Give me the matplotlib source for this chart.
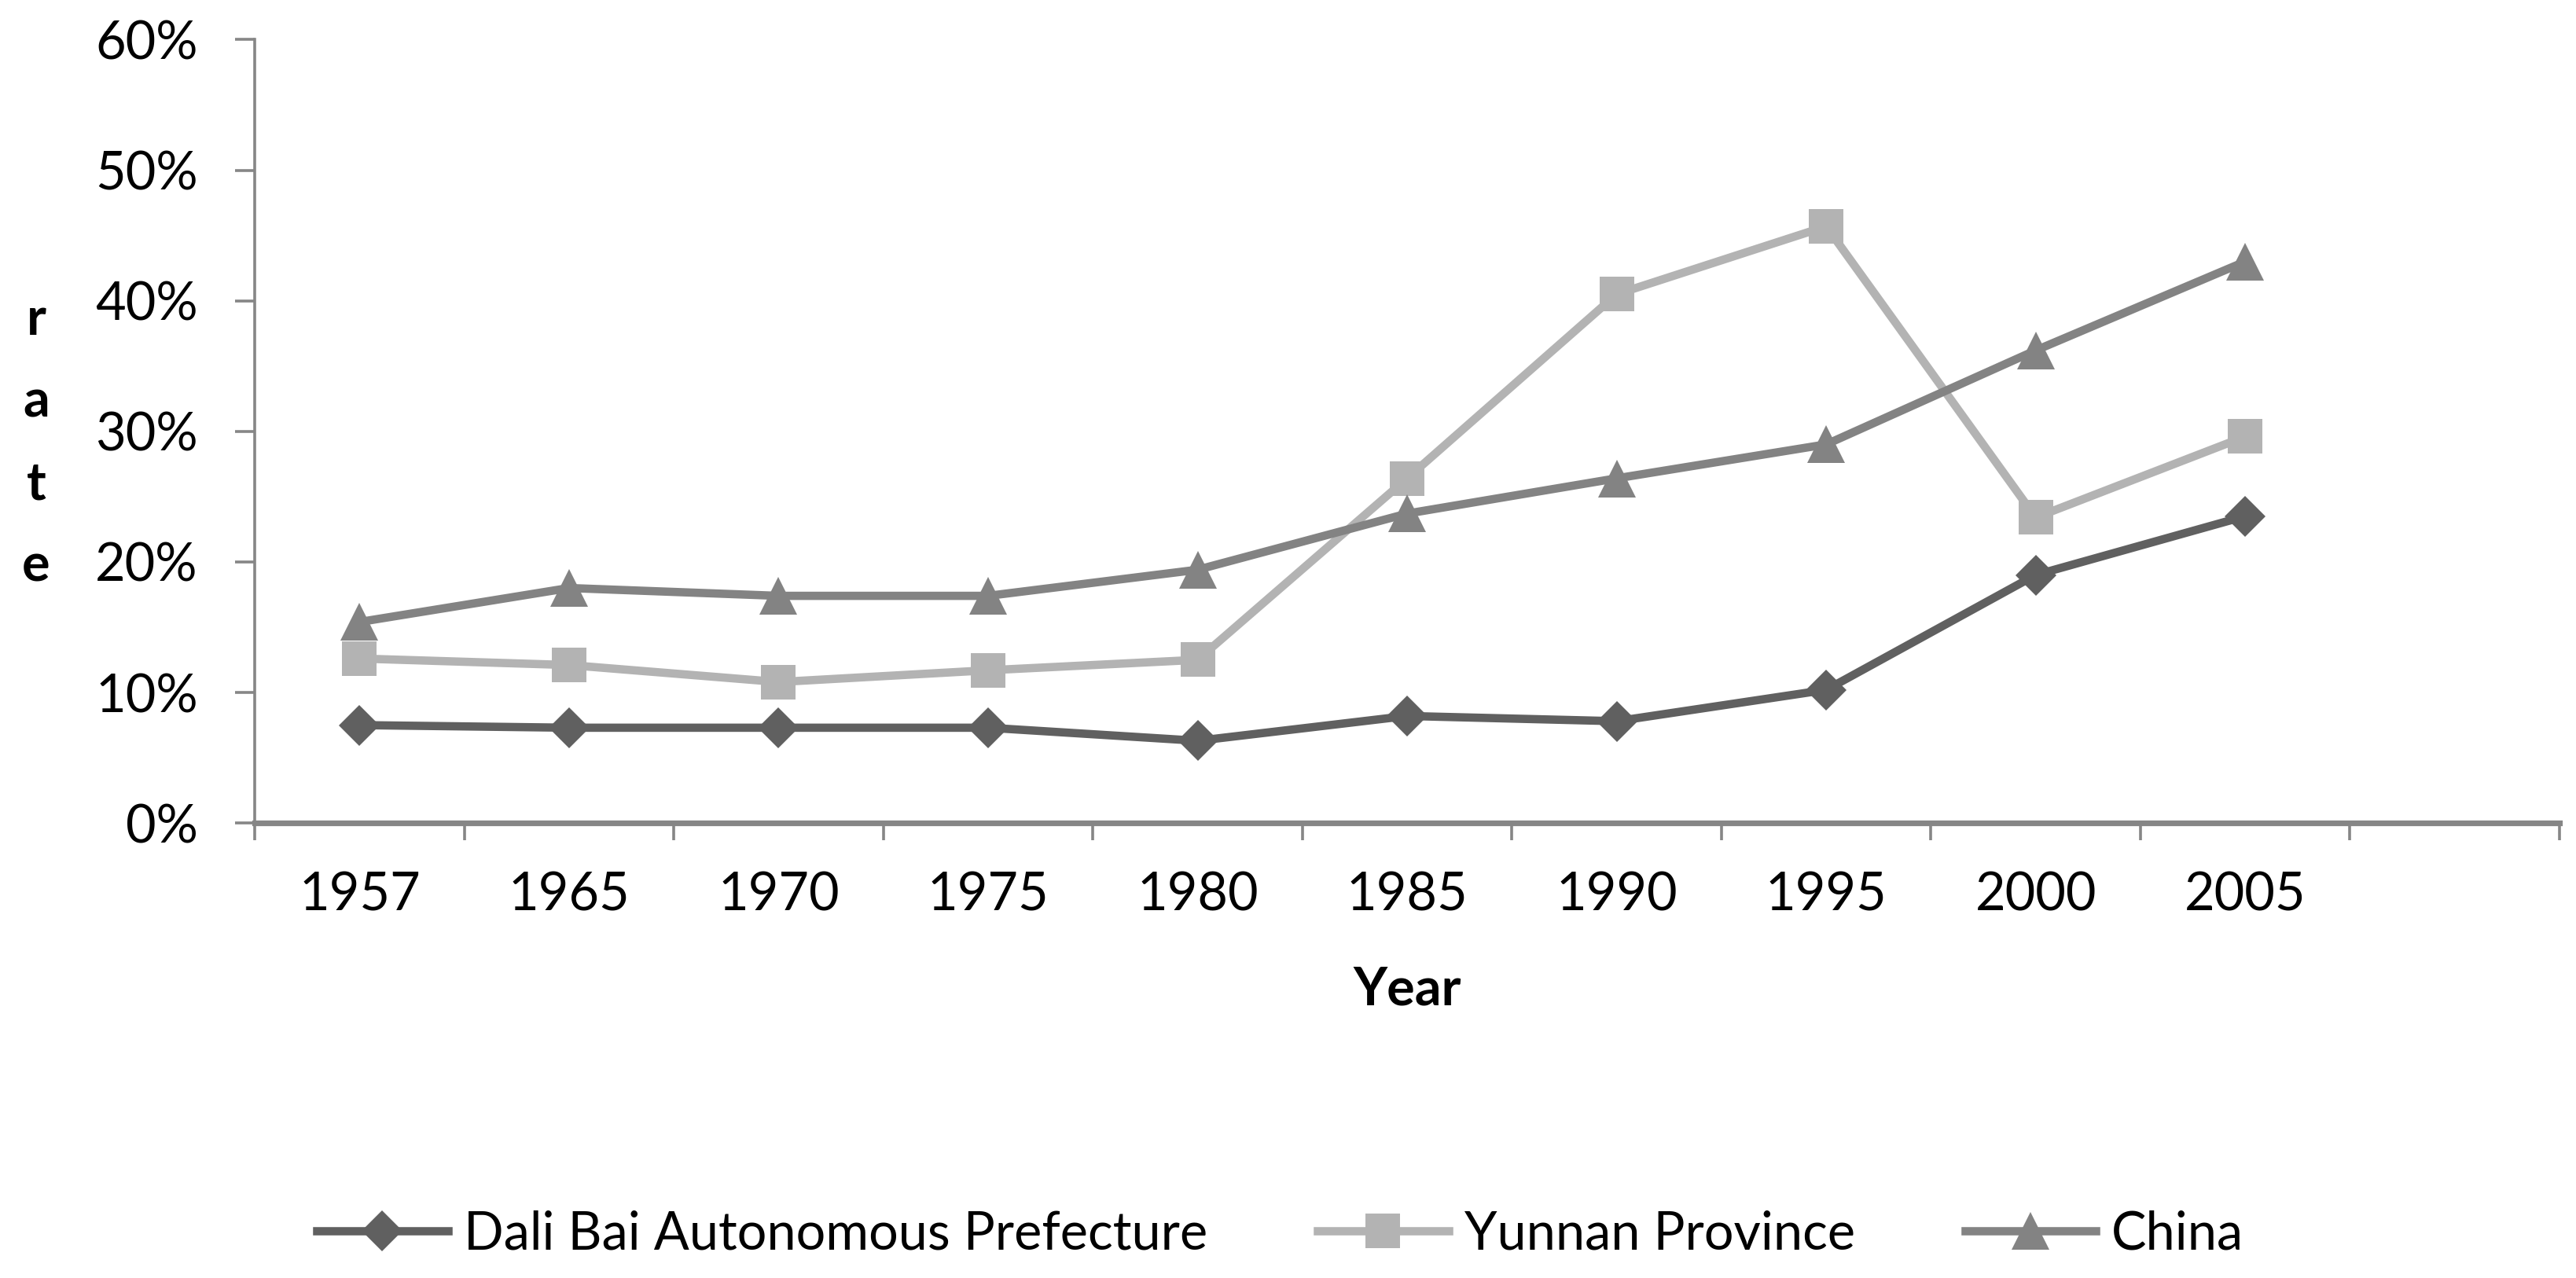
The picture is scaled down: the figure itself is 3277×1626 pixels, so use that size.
import matplotlib
matplotlib.use("Agg")
import matplotlib.pyplot as plt
from matplotlib.ticker import FixedLocator, PercentFormatter

years = ["1957", "1965", "1970", "1975", "1980", "1985", "1990", "1995", "2000", "2005"]
dali = [7.5, 7.3, 7.3, 7.3, 6.3, 8.2, 7.8, 10.2, 19.0, 23.5]
yunnan = [12.6, 12.1, 10.8, 11.7, 12.5, 26.4, 40.5, 45.7, 23.4, 29.6]
china = [15.4, 18.0, 17.4, 17.4, 19.4, 23.7, 26.4, 29.0, 36.2, 43.0]
n_slots = 11  # the category axis has one empty slot after 2005

series = [
    ("Dali Bai Autonomous Prefecture", dali, "#606060", "D", 13),
    ("Yunnan Province", yunnan, "#b3b3b3", "s", 16),
    ("China", china, "#838383", "^", 17),
]


def main():
    plt.rcParams["font.family"] = ["Lato", "DejaVu Sans"]
    fig = plt.figure(figsize=(16.385, 8.13), dpi=200)
    ax = fig.add_axes([0.0989, 0.356, 0.8947, 0.613])

    x = list(range(len(years)))
    for name, vals, color, marker, ms in series:
        ax.plot(x, vals, color=color, lw=3.8, marker=marker, markersize=ms,
                markeredgewidth=0, label=name, solid_joinstyle="round")

    ax.set_xlim(-0.5, n_slots - 0.5)
    ax.set_ylim(0, 60)
    ax.set_yticks(range(0, 61, 10))
    ax.yaxis.set_major_formatter(PercentFormatter(decimals=0))

    # tick marks between categories, labels centred on categories
    ax.xaxis.set_major_locator(FixedLocator([i - 0.5 for i in range(n_slots + 1)]))
    ax.xaxis.set_major_formatter(plt.NullFormatter())
    ax.xaxis.set_minor_locator(FixedLocator(x))
    ax.set_xticklabels(years, minor=True)

    axis_color = "#868686"
    for side in ["top", "right"]:
        ax.spines[side].set_visible(False)
    for side in ["left", "bottom"]:
        ax.spines[side].set_color(axis_color)
    ax.spines["left"].set_linewidth(1.3)
    ax.spines["bottom"].set_linewidth(2.6)

    ax.tick_params(axis="y", which="major", length=9, width=1.3, color=axis_color,
                   labelsize=24, pad=17)
    ax.tick_params(axis="x", which="major", length=8, width=1.3, color=axis_color)
    ax.tick_params(axis="x", which="minor", length=0, labelsize=24, pad=22)

    ax.set_xlabel("Year", fontsize=24, fontweight="bold", labelpad=21)
    fig.text(0.014, 0.653, "r\na\nt\ne", fontsize=24, fontweight="bold",
             ha="center", va="center", linespacing=1.85)

    fig.legend(loc="lower center", bbox_to_anchor=(0.497, -0.022), ncol=3,
               frameon=False, fontsize=24, handlelength=2.5, columnspacing=2.1,
               handletextpad=0.3)

    fig.savefig("out.png", dpi=200)


if __name__ == "__main__":
    main()
